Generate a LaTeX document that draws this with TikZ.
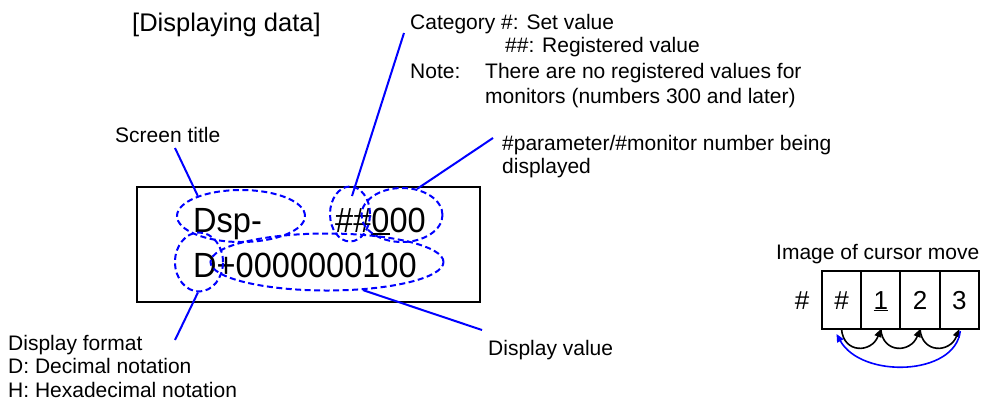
\documentclass[tikz,border=0pt]{standalone}
\usepackage{fontspec}
\setmainfont{Liberation Sans}
\newfontfamily\lcdfont[FakeStretch=0.93]{Liberation Sans}
\usetikzlibrary{shapes.geometric,arrows.meta,calc}

% underline mark for the cursor position
\newcommand\cursmark[2]{\setbox0\hbox{#2}\rlap{\rule[-#1]{\wd0}{1.8pt}}\box0\relax}

\tikzset{
  lbl/.style={inner sep=0pt, anchor=base west, font=\fontsize{21}{24}\selectfont},
  lcdtext/.style={inner sep=0pt, anchor=base west, font=\lcdfont\fontsize{35}{38}\selectfont},
  dashring/.style={ellipse, draw=blue, dash pattern=on 6pt off 3.5pt, line width=2pt, inner sep=0pt},
  lead/.style={draw=blue, line width=2pt},
  cell/.style={draw, line width=1.8pt, outer sep=0pt, inner sep=0pt, minimum width=39.25pt,
    minimum height=58pt, text height=18.6pt, text depth=0pt, font=\fontsize{26}{30}\selectfont},
  hop/.style={line width=1.6pt, -{Triangle[length=8pt,width=7pt]}}
}

\begin{document}
\begin{tikzpicture}[x=1pt,y=-1pt]
\useasboundingbox (0,0) rectangle (985,405);

% heading
\node[lbl, font=\fontsize{25.5}{30}\selectfont] (head) at (132,31) {[Displaying data]};

% display panel
\node[draw, line width=2.2pt, minimum width=343pt, minimum height=115pt, inner sep=0pt] (lcd) at (308.5,244.5) {};
\node[lcdtext] (row1a) at (193,232) {Dsp-};
\node[lcdtext] (row1b) at (335,232) {\#\#\cursmark{3pt}{0}00};
\node[lcdtext] (row2) at (193,277) {D+0000000100};

% callout rings
\node[dashring, minimum width=128pt, minimum height=52pt] (e1) at (241,216) {};
\node[dashring, minimum width=40pt, minimum height=55pt] (e2) at (350,214) {};
\node[dashring, minimum width=81pt, minimum height=54pt] (e3) at (402,215) {};
\node[dashring, minimum width=48pt, minimum height=59pt] (e4) at (199,262) {};
\node[dashring, minimum width=233pt, minimum height=57pt] (e5) at (327,262) {};

% labels
\node[lbl] (ttl) at (115,142) {Screen title};
\node[lbl] (cat1) at (410,29) {Category \#: Set value};
\node[lbl] (cat2) at (505,52) {\#\#: Registered value};
\node[lbl] (note) at (410,78) {Note:};
\node[lbl] (note1) at (485,78) {There are no registered values for};
\node[lbl] (note2) at (485,103) {monitors (numbers 300 and later)};
\node[lbl] (par1) at (502,150) {\#parameter/\#monitor number being};
\node[lbl] (par2) at (502,173) {displayed};
\node[lbl] (fmt1) at (8,350) {Display format};
\node[lbl] (fmt2) at (8,373) {D: Decimal notation};
\node[lbl] (fmt3) at (8,397) {H: Hexadecimal notation};
\node[lbl] (dval) at (488,355) {Display value};

% leader lines
\coordinate (ttlfoot) at (175,148);
\coordinate (catfoot) at (404,33);
\coordinate (parfoot) at (493,138);
\coordinate (fmthead) at (175,340);
\coordinate (dvalhead) at (482,330);
\draw[lead] (ttlfoot) -- (e1.155);
\draw[lead] (catfoot) -- ($(e2.center)+(2,-18)$);
\draw[lead] (parfoot) -- (e3.60);
\draw[lead] (fmthead) -- (e4.268);
\draw[lead] (dvalhead) -- (e5.-38);

% cursor movement sketch
\node[lbl] (cur) at (776,259) {Image of cursor move};
\node[cell, draw=none] (c00) at (802,300) {\#};
\node[cell] (c0) at (841.5,300) {\#};
\node[cell, anchor=west] (c1) at (c0.east) {\cursmark{2pt}{1}};
\node[cell, anchor=west] (c2) at (c1.east) {2};
\node[cell, anchor=west] (c3) at (c2.east) {3};
\draw[hop] (c0.south) .. controls +(2,25) and +(-9,24) .. (c1.south);
\draw[hop] (c1.south) .. controls +(2,25) and +(-9,24) .. (c2.south);
\draw[hop] (c2.south) .. controls +(2,25) and +(-9,24) .. (c3.south);
\draw[hop, blue] ($(c3.south)+(1,2)$) .. controls +(-5,45) and +(25,45) .. ($(c0.south)+(-5,5)$);
\end{tikzpicture}
\end{document}
